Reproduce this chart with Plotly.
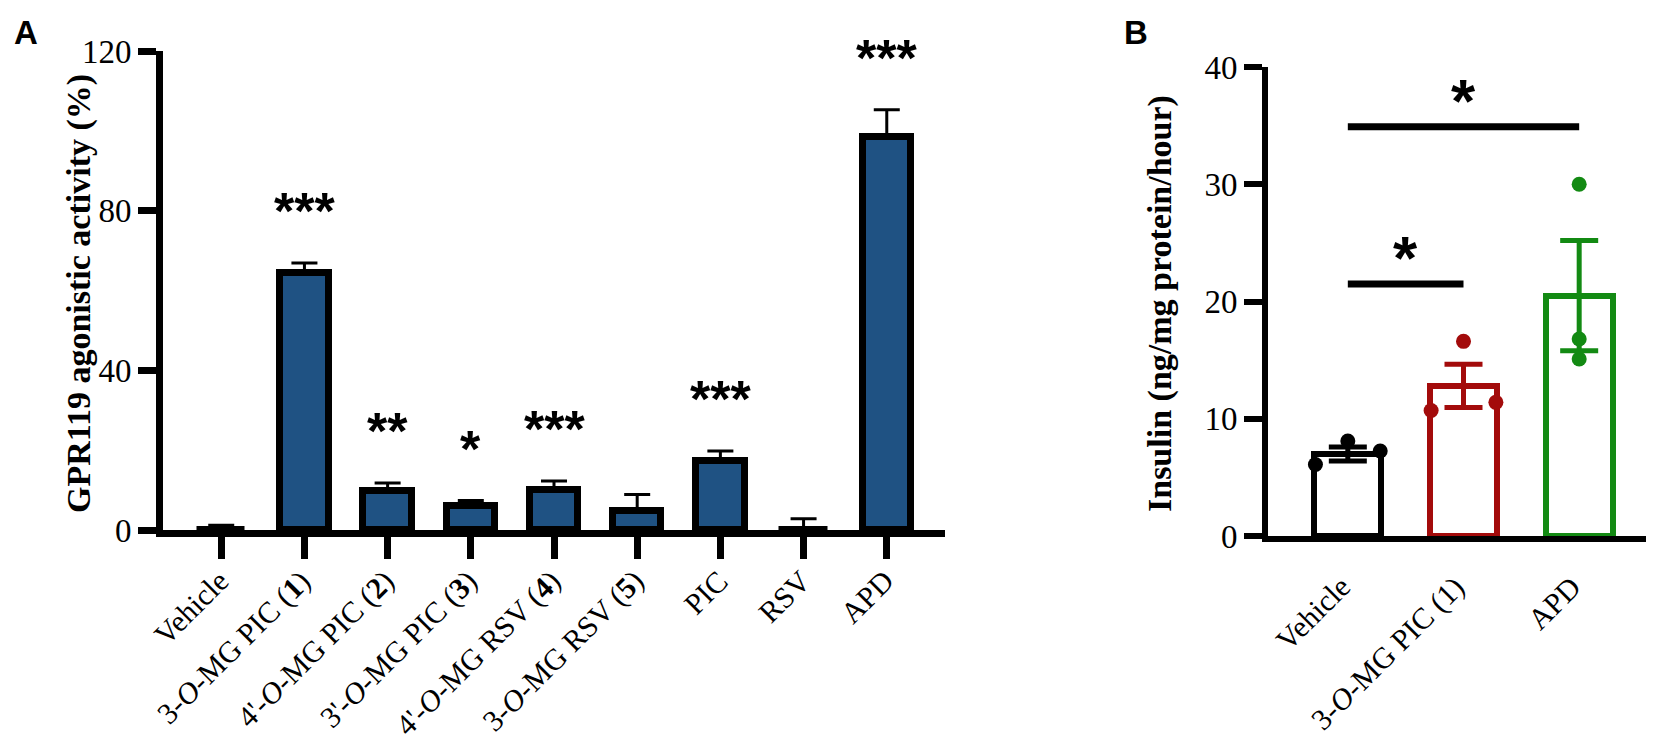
import plotly.graph_objects as go

W, H = 1654, 742

# ---- panel A data ----
a_labels = ["Vehicle", "3-<i>O</i>-MG PIC (<b>1</b>)", "4'-<i>O</i>-MG PIC (<b>2</b>)",
            "3'-<i>O</i>-MG PIC (<b>3</b>)", "4'-<i>O</i>-MG RSV (<b>4</b>)",
            "3-<i>O</i>-MG RSV (<b>5</b>)", "PIC", "RSV", "APD"]
a_mean = [0.0, 64.5, 9.8, 5.9, 10.0, 4.7, 17.2, 0.0, 98.5]
a_err = [1.2, 2.4, 2.0, 1.5, 2.3, 4.2, 2.6, 2.8, 6.8]
a_sig = ["", "***", "**", "*", "***", "", "***", "", "***"]

# ---- panel B data ----
b_labels = ["Vehicle", "3-<i>O</i>-MG PIC (1)", "APD"]
b_mean = [7.0, 12.8, 20.5]
b_sem = [0.6, 1.85, 4.7]
b_points = [[6.1, 8.1, 7.25], [10.7, 16.6, 11.4], [30.0, 16.8, 15.1]]
b_spread = [0.28, 0.28, 0.0]
b_colors = ["#000000", "#A30B0B", "#138A13"]
b_comparisons = [(0, 1, "*"), (0, 2, "*")]

serif = "Liberation Serif"
sans = "Liberation Sans"
bar_blue = "#1F5283"


def px(x):
    return x / W


def py(y):
    return (H - y) / H


fig = go.Figure()

# panel A bars
fig.add_trace(go.Bar(
    x=list(range(len(a_mean))), y=a_mean, width=0.58,
    marker=dict(color=bar_blue, line=dict(color="black", width=7)),
    error_y=dict(type="data", symmetric=False, array=a_err,
                 arrayminus=[0] * len(a_err), color="black", thickness=3, width=13),
    xaxis="x", yaxis="y", showlegend=False,
))

annotations = []
for i, s in enumerate(a_sig):
    if s:
        annotations.append(dict(
            x=i, y=a_mean[i] + a_err[i] + 12.5, xref="x", yref="y", text=s,
            showarrow=False, font=dict(family=sans, size=52, color="black", weight="bold"),
            yanchor="middle", yshift=2,
        ))

# rotated category labels, hung below the ticks
labelfont = dict(family=serif, size=30, color="black")
for i, lab in enumerate(a_labels):
    annotations.append(dict(
        x=i, y=0, xref="x", yref="y", text=lab, textangle=-45, showarrow=False,
        xanchor="right", yanchor="top", xshift=16, yshift=-31, font=labelfont,
    ))
for i, lab in enumerate(b_labels):
    annotations.append(dict(
        x=i, y=0, xref="x2", yref="y2", text=lab, textangle=-45, showarrow=False,
        xanchor="right", yanchor="top", xshift=11, yshift=-31, font=labelfont,
    ))

# panel B bars, error bars and points
for i in range(len(b_mean)):
    fig.add_trace(go.Bar(
        x=[i], y=[b_mean[i]], width=0.58,
        marker=dict(color="white", line=dict(color=b_colors[i], width=6)),
        xaxis="x2", yaxis="y2", showlegend=False,
    ))
for i in range(len(b_mean)):
    n = len(b_points[i])
    xs = [i + (k - (n - 1) / 2) * b_spread[i] for k in range(n)]
    fig.add_trace(go.Scatter(
        x=xs, y=b_points[i], mode="markers",
        marker=dict(color=b_colors[i], size=15),
        xaxis="x2", yaxis="y2", showlegend=False, cliponaxis=False,
    ))
    fig.add_trace(go.Scatter(
        x=[i], y=[b_mean[i]], mode="markers", marker=dict(size=0.1, color=b_colors[i]),
        error_y=dict(type="data", array=[b_sem[i]], color=b_colors[i], thickness=5, width=19),
        xaxis="x2", yaxis="y2", showlegend=False,
    ))

for a, b, s in b_comparisons:
    level = max(b_points[b]) + 4.9
    fig.add_trace(go.Scatter(
        x=[a, b], y=[level, level], mode="lines",
        line=dict(color="black", width=7),
        xaxis="x2", yaxis="y2", showlegend=False, cliponaxis=False,
    ))
    annotations.append(dict(
        x=(a + b) / 2, y=level + 2.6, xref="x2", yref="y2", text=s,
        showarrow=False, font=dict(family=sans, size=62, color="black", weight="bold"),
        yanchor="middle", yshift=-4,
    ))

# panel letters and axis titles
annotations += [
    dict(x=px(4), y=py(4), xref="paper", yref="paper", text="A", showarrow=False,
         xanchor="left", yanchor="top", font=dict(family=sans, size=33, color="black", weight="bold")),
    dict(x=px(1114), y=py(4), xref="paper", yref="paper", text="B", showarrow=False,
         xanchor="left", yanchor="top", font=dict(family=sans, size=33, color="black", weight="bold")),
    dict(x=px(50), y=py(286), xref="paper", yref="paper", text="GPR119 agonistic activity (%)",
         textangle=-90, showarrow=False,
         font=dict(family=serif, size=34, color="black", weight="bold")),
    dict(x=px(1173), y=py(296), xref="paper", yref="paper", text="Insulin (ng/mg protein/hour)",
         textangle=-90, showarrow=False,
         font=dict(family=serif, size=34, color="black", weight="bold")),
]

tickfont = dict(family=serif, size=33, color="black")

fig.update_layout(
    width=W, height=H, margin=dict(l=0, r=0, t=0, b=0),
    paper_bgcolor="white", plot_bgcolor="white",
    template="none", showlegend=False, bargap=0,
    annotations=annotations,
    xaxis=dict(domain=[px(155), px(937)], anchor="y", range=[-0.7, 8.7],
               tickvals=list(range(len(a_labels))), showticklabels=False,
               ticks="outside", ticklen=22, tickwidth=7, tickcolor="black",
               showline=True, linewidth=7, linecolor="black", showgrid=False,
               zeroline=False),
    yaxis=dict(domain=[py(522), py(43)], anchor="x", range=[0, 120], tickvals=[0, 40, 80, 120],
               ticks="outside", ticklen=18, tickwidth=7, tickcolor="black",
               showline=True, linewidth=7, linecolor="black", showgrid=False,
               zeroline=False, tickfont=tickfont),
    xaxis2=dict(domain=[px(1260), px(1651)], anchor="y2", range=[-0.69, 2.69],
                tickvals=[0, 1, 2], showticklabels=False, ticks="",
                showline=True, linewidth=6, linecolor="black", showgrid=False,
                zeroline=False),
    yaxis2=dict(domain=[py(528), py(59)], anchor="x2", range=[0, 40], tickvals=[0, 10, 20, 30, 40],
                ticks="outside", ticklen=18, tickwidth=6, tickcolor="black",
                showline=True, linewidth=6, linecolor="black", showgrid=False,
                zeroline=False, tickfont=tickfont),
)

fig.write_html("out.html")
